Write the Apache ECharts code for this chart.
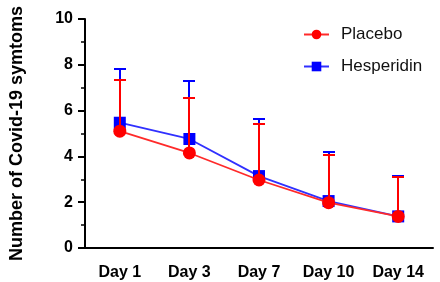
<!DOCTYPE html>
<html>
<head>
<meta charset="utf-8">
<script src="https://cdn.jsdelivr.net/npm/echarts@6/dist/echarts.min.js"></script>
<style>
  html, body { margin: 0; padding: 0; background: #fff; }
  #chart { width: 440px; height: 282px; }
</style>
</head>
<body>
<div id="chart"></div>
<script>
const days = ['Day 1', 'Day 3', 'Day 7', 'Day 10', 'Day 14'];
const placeboMean = [5.1, 4.15, 2.97, 1.98, 1.38];
const placeboUpper = [7.35, 6.54, 5.41, 4.07, 3.08];
const hesperidinMean = [5.47, 4.76, 3.14, 2.05, 1.38];
const hesperidinUpper = [7.83, 7.28, 5.63, 4.19, 3.13];
const yTicks = [0, 2, 4, 6, 8, 10];

const RED = '#ff0000';
const BLUE = '#0000ff';
const FONT = '"Liberation Sans", Arial, sans-serif';

const errData = (mean, upper) => mean.map((m, i) => [i, m, upper[i]]);

// vertical line from the mean up to the SD cap
const errorBar = (name, mean, upper, color, z) => ({
  name,
  type: 'custom',
  z,
  silent: true,
  data: errData(mean, upper),
  renderItem: (params, api) => {
    const lo = api.coord([api.value(0), api.value(1)]);
    const hi = api.coord([api.value(0), api.value(2)]);
    const x = Math.round(lo[0]);
    const yTop = Math.round(hi[1]);
    const half = 6;
    const style = { stroke: color, lineWidth: 2 };
    return {
      type: 'group',
      children: [
        { type: 'line', shape: { x1: x, y1: lo[1], x2: x, y2: yTop }, style },
        { type: 'line', shape: { x1: x - half, y1: yTop, x2: x + half, y2: yTop }, style }
      ]
    };
  }
});

const chart = echarts.init(document.getElementById('chart'));

chart.setOption({
  animation: false,
  textStyle: { fontFamily: FONT },
  grid: { left: 85, right: 7, top: 19, bottom: 34 },
  legend: {
    data: ['Placebo', 'Hesperidin'],
    orient: 'vertical',
    left: 298,
    top: 21,
    itemWidth: 25,
    itemHeight: 12,
    itemGap: 15,
    textStyle: { fontSize: 17, color: '#111', fontFamily: FONT, padding: [0, 0, 0, 7] }
  },
  xAxis: {
    type: 'category',
    data: days,
    axisLine: { lineStyle: { color: '#000', width: 2 } },
    axisTick: { alignWithLabel: true, length: 7, lineStyle: { color: '#000', width: 2 } },
    axisLabel: { color: '#000', fontWeight: 'bold', fontSize: 16, margin: 17, fontFamily: FONT },
    splitLine: { show: false }
  },
  yAxis: {
    type: 'value',
    min: yTicks[0],
    max: yTicks[yTicks.length - 1],
    interval: 2,
    name: 'Number of Covid-19 symtoms',
    nameLocation: 'middle',
    nameGap: 59,
    nameTextStyle: { color: '#000', fontWeight: 'bold', fontSize: 18, fontFamily: FONT },
    axisLine: { show: true, lineStyle: { color: '#000', width: 2 } },
    axisTick: { show: true, length: 7, lineStyle: { color: '#000', width: 2 } },
    minorTick: { show: true, splitNumber: 2, length: 4, lineStyle: { color: '#000', width: 1.5 } },
    axisLabel: { color: '#000', fontWeight: 'bold', fontSize: 16, margin: 12, fontFamily: FONT },
    splitLine: { show: false }
  },
  series: [
    errorBar('Hesperidin SD', hesperidinMean, hesperidinUpper, BLUE, 1),
    {
      name: 'Hesperidin',
      type: 'line',
      z: 2,
      data: hesperidinMean,
      symbol: 'rect',
      symbolSize: 12,
      itemStyle: { color: BLUE },
      lineStyle: { color: '#3030ff', width: 1.8 }
    },
    errorBar('Placebo SD', placeboMean, placeboUpper, RED, 3),
    {
      name: 'Placebo',
      type: 'line',
      z: 4,
      data: placeboMean,
      symbol: 'circle',
      symbolSize: 13,
      itemStyle: { color: RED },
      lineStyle: { color: '#ff2a2a', width: 1.8 }
    }
  ]
});
</script>
</body>
</html>
